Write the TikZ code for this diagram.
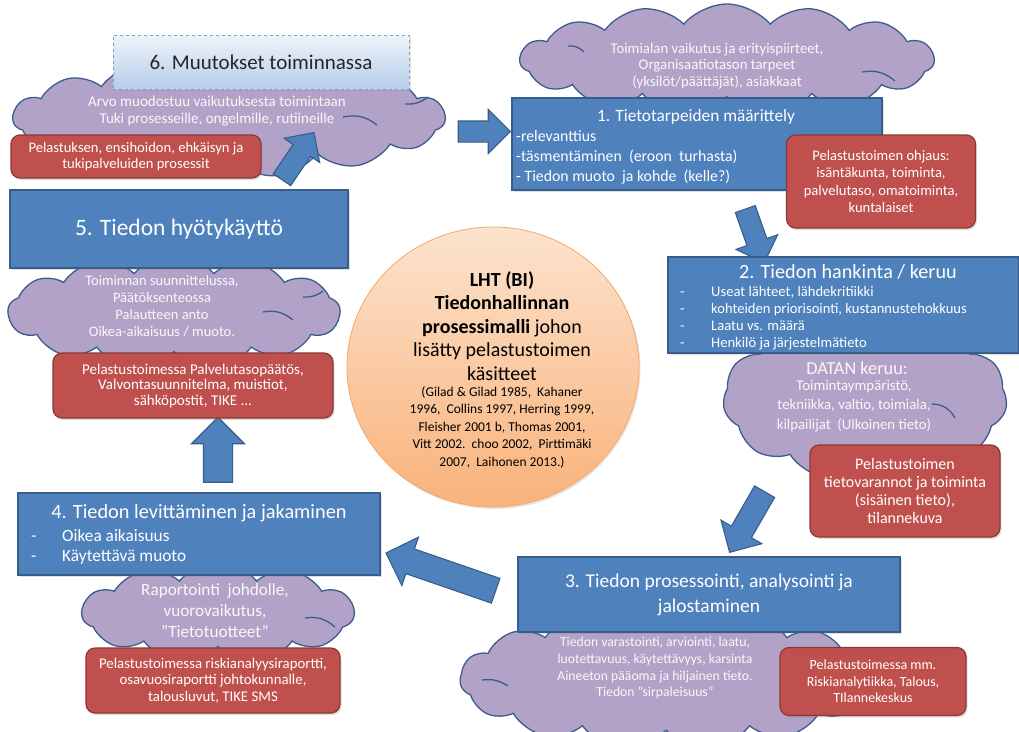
\documentclass[tikz,border=0pt]{standalone}
\usepackage{fontspec}
\setmainfont{Carlito}
\usetikzlibrary{positioning,shapes.symbols,shapes.arrows,shapes.geometric,shadows}

\definecolor{stageblue}{HTML}{4F81BD}
\definecolor{stageline}{HTML}{385D8A}
\definecolor{bubblefill}{HTML}{B3A2C7}
\definecolor{bubbleline}{HTML}{3A5D8C}
\definecolor{notefill}{HTML}{C0504D}
\definecolor{noteline}{HTML}{8C3836}
\definecolor{paletop}{HTML}{EEF3FA}
\definecolor{palebottom}{HTML}{B7CDEA}
\definecolor{paleline}{HTML}{7E9CC4}
\definecolor{peachtop}{HTML}{FCE3CE}
\definecolor{peachbottom}{HTML}{F9B27A}
\definecolor{peachline}{HTML}{F4A86A}

\newcommand{\fs}[2]{\fontsize{#1}{#2}\selectfont}
\newcommand{\dashitem}[1]{\makebox[31pt][l]{-}#1}

\tikzset{
  stagebox/.style={draw=stageline, line width=1.2pt, fill=stageblue, text=white,
    align=center, inner sep=0pt,
    drop shadow={opacity=0.25, shadow xshift=1.5pt, shadow yshift=-2pt}},
  changebox/.style={draw=paleline, dashed, line width=0.8pt, top color=paletop,
    bottom color=palebottom, text=black!85, inner sep=0pt,
    drop shadow={opacity=0.2, shadow xshift=1.5pt, shadow yshift=-2pt}},
  notebox/.style={draw=noteline, line width=1.2pt, fill=notefill, text=white,
    rounded corners=9pt, align=center, inner sep=0pt,
    drop shadow={opacity=0.25, shadow xshift=1.5pt, shadow yshift=-2pt}},
  bubble/.style={cloud, cloud puffs=#1, cloud puff arc=100, cloud ignores aspect,
    draw=bubbleline, line width=1.3pt, fill=bubblefill, inner sep=0pt},
  bubbletext/.style={text=white!92!bubblefill, align=center},
  stagetext/.style={text=white, align=left, inner sep=0pt},
  curl/.style={draw=bubbleline, line width=1.3pt},
  flow/.style n args={4}{single arrow, draw=stageline, line width=1.1pt,
    fill=stageblue, inner xsep=0pt, minimum height=#1, minimum width=#2,
    inner ysep=#3, single arrow head extend=#4},
}

\begin{document}
\begin{tikzpicture}[x=1pt,y=-1pt]
  \useasboundingbox (0,0) rectangle (1019,731);

  % Clouds
  \node[bubble=15, minimum width=432pt, minimum height=118pt] (c6) at (229,118) {};
  \node[bubble=15, minimum width=414pt, minimum height=112pt] (c1) at (727,60) {};
  \node[bubble=11, minimum width=284pt, minimum height=165pt] (c2) at (865,398) {};
  \node[bubble=15, minimum width=412pt, minimum height=140pt] (c3) at (666,679) {};
  \node[bubble=11, minimum width=272pt, minimum height=100pt] (c4) at (218,613) {};
  \node[bubble=13, minimum width=332pt, minimum height=114pt] (c5) at (174,312) {};

  % Curls
  \draw[curl] (405,104) to[bend right=20] (428,97);
  \draw[curl] (343,117) to[bend left=25] (377,125);
  \draw[curl] (862,72) to[bend left=25] (895,81);
  \draw[curl] (568,46) to[bend left=25] (584,52);
  \draw[curl] (932,404) to[bend left=30] (955,418);
  \draw[curl] (482,680) to[bend left=20] (508,686);
  \draw[curl] (305,618) to[bend left=25] (335,627);
  \draw[curl] (303,297) to[bend right=20] (323,291);
  \draw[curl] (263,312) to[bend left=25] (293,320);

  % Flow arrows
  \node[flow={52pt}{43pt}{10pt}{11.5pt}] (a61) at (479,131.5) {};
  \node[flow={57pt}{42pt}{10pt}{11pt}, rotate=55.8] (a56) at (295,160.5) {};
  \node[flow={57pt}{43pt}{10pt}{11.5pt}, rotate=-70.6] (a12) at (753,231) {};
  \node[flow={70pt}{46pt}{11pt}{12pt}, rotate=240] (a23) at (750,517) {};
  \node[flow={116pt}{50pt}{12.5pt}{12.5pt}, rotate=161] (a34) at (447,574) {};
  \node[flow={65pt}{52pt}{14pt}{12pt}, rotate=90] (a45) at (218,457) {};

  % Stage boxes
  \node[changebox, minimum width=296pt, minimum height=54pt, font=\fs{21}{25}] (b6) at (261,62) {6. Muutokset toiminnassa};
  \node[stagebox, minimum width=370pt, minimum height=92pt] (b1) at (697,144) {};
  \node[stagebox, minimum width=351pt, minimum height=96pt] (b2) at (843.5,305) {};
  \node[stagebox, minimum width=382pt, minimum height=75pt, font=\fs{19.5}{25}] (b3) at (709,594.5) {3. Tiedon prosessointi, analysointi ja\\jalostaminen};
  \node[stagebox, minimum width=362pt, minimum height=82pt] (b4) at (199,534) {};
  \node[stagebox, minimum width=338pt, minimum height=78pt, font=\fs{23.5}{27}] (b5) at (179,229) {5. Tiedon hyötykäyttö};

  % Stage texts
  \node[text=white, font=\fs{17.3}{20}] (t1) at (696,117) {1. Tietotarpeiden määrittely};
  \node[stagetext, anchor=west, font=\fs{15.8}{20}] (l1) at (516,157) {-relevanttius\\-täsmentäminen\ \ (eroon\ \ turhasta)\\- Tiedon muoto\ \ ja kohde\ \ (kelle?)};
  \node[text=white, font=\fs{20.2}{24}] (t2) at (848,272) {2. Tiedon hankinta / keruu};
  \node[stagetext, anchor=west, font=\fs{14.6}{17}] (l2) at (680,318.5) {\dashitem{Useat lähteet, lähdekritiikki}\\\dashitem{kohteiden priorisointi, kustannustehokkuus}\\\dashitem{Laatu vs. määrä}\\\dashitem{Henkilö ja järjestelmätieto}};
  \node[text=white, font=\fs{20.3}{24}] (t4) at (199,513) {4. Tiedon levittäminen ja jakaminen};
  \node[stagetext, anchor=west, font=\fs{17.3}{20}] (l4) at (31,547) {\dashitem{Oikea aikaisuus}\\\dashitem{Käytettävä muoto}};

  % Cloud texts
  \node[bubbletext, font=\fs{15}{17}] (k6) at (217,111) {Arvo muodostuu vaikutuksesta toimintaan\\Tuki prosesseille, ongelmille, rutiineille};
  \node[bubbletext, font=\fs{14.8}{16.5}] (k1) at (717,66) {Toimialan vaikutus ja erityispiirteet,\\Organisaatiotason tarpeet\\(yksilöt/päättäjät), asiakkaat};
  \node[bubbletext, font=\fs{18.3}{20}] (k2a) at (857,368) {DATAN keruu:};
  \node[bubbletext, font=\fs{14.8}{19.5}] (k2) at (854,406) {Toimintaympäristö,\\tekniikka, valtio, toimiala,\\kilpailijat\ \ (Ulkoinen tieto)};
  \node[bubbletext, font=\fs{13.7}{16.7}] (k3) at (655,668) {Tiedon varastointi, arviointi, laatu,\\luotettavuus, käytettävyys, karsinta\\Aineeton pääoma ja hiljainen tieto.\\Tiedon ”sirpaleisuus”};
  \node[bubbletext, font=\fs{17.2}{21}] (k4) at (215,611) {Raportointi\ \ johdolle,\\vuorovaikutus,\\”Tietotuotteet”};
  \node[bubbletext, font=\fs{14.5}{17}] (k5) at (162,306) {Toiminnan suunnittelussa,\\Päätöksenteossa\\Palautteen anto\\Oikea-aikaisuus / muoto.};

  % Notes
  \node[notebox, minimum width=250pt, minimum height=43pt, font=\fs{14.6}{16}] (n6) at (136,156.5) {Pelastuksen, ensihoidon, ehkäisyn ja\\tukipalveluiden prosessit};
  \node[notebox, minimum width=189pt, minimum height=93pt, font=\fs{14.6}{17.5}] (n1) at (881,181.5) {Pelastustoimen ohjaus:\\isäntäkunta, toiminta,\\palvelutaso, omatoiminta,\\kuntalaiset};
  \node[notebox, minimum width=190pt, minimum height=92pt, font=\fs{16}{17.7}] (n2) at (905,491) {Pelastustoimen\\tietovarannot ja toiminta\\(sisäinen tieto),\\tilannekuva};
  \node[notebox, minimum width=186pt, minimum height=68pt, font=\fs{14}{16.5}] (n3) at (873,681.5) {Pelastustoimessa mm.\\Riskianalytiikka, Talous,\\TIlannekeskus};
  \node[notebox, minimum width=254pt, minimum height=65pt, font=\fs{14.8}{16.5}] (n4) at (213,680.5) {Pelastustoimessa riskianalyysiraportti,\\osavuosiraportti johtokunnalle,\\talousluvut, TIKE SMS};
  \node[notebox, minimum width=280pt, minimum height=65pt, font=\fs{15}{15.5}] (n5) at (193,385.5) {Pelastustoimessa Palvelutasopäätös,\\Valvontasuunnitelma, muistiot,\\sähköpostit, TIKE ...};

  % Centre
  \node[ellipse, minimum width=292pt, minimum height=280pt, draw=peachline, line width=0.8pt,
    top color=peachtop, bottom color=peachbottom,
    drop shadow={opacity=0.2, shadow xshift=1.5pt, shadow yshift=-2pt}] (hub) at (493,367) {};
  \node[align=center, font=\fs{20}{23.5}] (hubtitle) at (502,326) {\textbf{LHT (BI)}\\\textbf{Tiedonhallinnan}\\\textbf{prosessimalli} johon\\lisätty pelastustoimen\\käsitteet};
  \node[align=center, font=\fs{13.5}{17.5}] (hubcite) at (502,427) {(Gilad \& Gilad 1985,\ \ Kahaner\\1996,\ \ Collins 1997, Herring 1999,\\Fleisher 2001 b, Thomas 2001,\\Vitt 2002.\ \ choo 2002,\ \ Pirttimäki\\2007,\ \ Laihonen 2013.)};

\end{tikzpicture}
\end{document}
